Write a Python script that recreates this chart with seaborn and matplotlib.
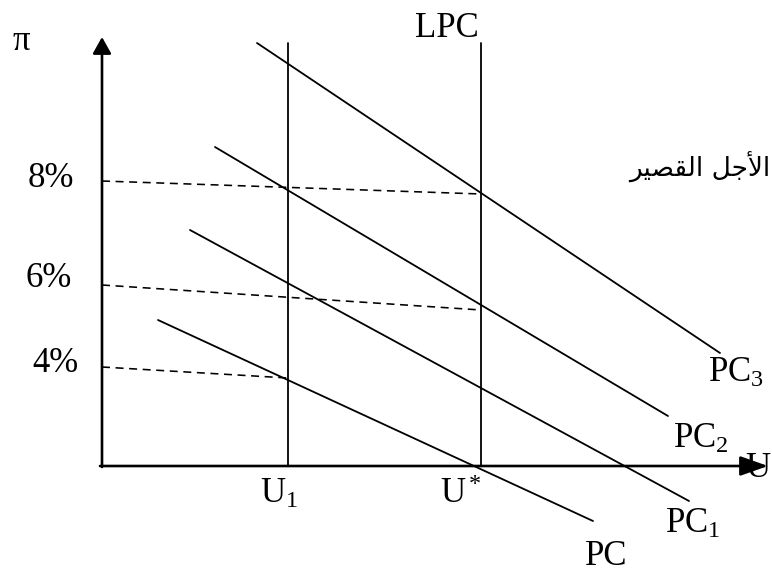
import pandas as pd
import numpy as np
import matplotlib
matplotlib.use("Agg")
import matplotlib.pyplot as plt
import seaborn as sns

# seaborn style, then fonts (set_style resets font.family)
sns.set_style("white")
plt.rcParams['font.family'] = ['Liberation Serif', 'DejaVu Sans']
plt.rcParams['mathtext.fontset'] = 'custom'
plt.rcParams['mathtext.rm'] = 'Liberation Serif'
plt.rcParams['mathtext.it'] = 'Liberation Serif:italic'
plt.rcParams['text.color'] = 'black'

# short-run Phillips curves: start / end points (U, pi) in diagram units
curve_names = ['PC', 'PC1', 'PC2', 'PC3']
curve_u_start = [0.56, 0.88, 1.13, 1.55]
curve_pi_start = [1.46, 2.36, 3.19, 4.23]
curve_u_end = [4.91, 5.87, 5.66, 6.18]
curve_pi_end = [-0.55, -0.35, 0.50, 1.13]

# vertical lines: U1 and U* (long-run curve LPC)
vline_u = [1.86, 3.79]
vline_top = 4.23

# dashed expectation lines from the pi axis
dash_labels = ['8%', '6%', '4%']
dash_pi_start = [2.85, 1.81, 0.99]
dash_u_end = [3.79, 3.79, 1.86]
dash_pi_end = [2.72, 1.56, 0.88]

# axis extents
u_axis_end = 6.66
pi_axis_end = 4.29

def load_curves():
    rows = []
    for n, u0, p0, u1, p1 in zip(curve_names, curve_u_start, curve_pi_start,
                                 curve_u_end, curve_pi_end):
        rows.append({'curve': n, 'U': u0, 'pi': p0})
        rows.append({'curve': n, 'U': u1, 'pi': p1})
    return pd.DataFrame(rows)

fig = plt.figure(figsize=(7.72, 5.72), dpi=100)
ax = fig.add_axes([0, 0, 1, 1])
ax.set_xlim(-1.02, 6.70)
ax.set_ylim(-1.06, 4.66)

curves = load_curves()
sns.lineplot(data=curves, x='U', y='pi', hue='curve', units='curve',
             estimator=None, sort=False, legend=False, ax=ax,
             palette=['black'] * 4, linewidth=1.3)

# verticals
for u in vline_u:
    ax.plot([u, u], [0, vline_top], color='black', lw=1.3)

# dashed lines
for p0, u1, p1 in zip(dash_pi_start, dash_u_end, dash_pi_end):
    ax.plot([0, u1], [p0, p1], color='black', lw=1.15, linestyle=(0, (5, 3.5)))

# axes with arrows
ax.annotate('', xy=(0, pi_axis_end), xytext=(0, -0.01),
            arrowprops=dict(arrowstyle='-|>,head_length=0.5,head_width=0.28',
                            mutation_scale=20, lw=1.9, color='black',
                            shrinkA=0, shrinkB=0))
ax.annotate('', xy=(u_axis_end, 0), xytext=(-0.02, 0),
            arrowprops=dict(arrowstyle='-|>,head_length=0.85,head_width=0.3',
                            mutation_scale=20, lw=1.9, color='black',
                            shrinkA=0, shrinkB=0))

fs = 25

# text labels (positions in diagram units)
def px(x, y):
    return (x - 102) / 100, (466 - y) / 100

ax.text(*px(21, 50), 'π', fontsize=fs, ha='center', va='baseline')
for lab, (x, y) in zip(dash_labels, [(51, 187), (49, 287), (55, 372)]):
    ax.text(*px(x, y), lab, fontsize=fs, ha='center', va='baseline')
ax.text(*px(447, 37), 'LPC', fontsize=fs, ha='center', va='baseline')
ax.text(*px(260, 503), 'U$_1$', fontsize=fs, ha='left', va='baseline')
ax.text(*px(440, 503), 'U$^*$', fontsize=fs, ha='left', va='baseline')
ax.text(*px(585, 565), 'PC', fontsize=fs, ha='left', va='baseline')
ax.text(*px(665, 533), 'PC$_1$', fontsize=fs, ha='left', va='baseline')
ax.text(*px(673, 448), 'PC$_2$', fontsize=fs, ha='left', va='baseline')
ax.text(*px(708, 382), 'PC$_3$', fontsize=fs, ha='left', va='baseline')
ax.text(*px(745, 477), 'U', fontsize=fs, ha='left', va='baseline')

# "short run" label, Arabic in shaped presentation forms (visual order)
ax.text(*px(770, 167), 'ﺮﻴﺼﻘﻟﺍ ﻞﺟﻷﺍ', fontsize=19, ha='right', va='center',
        family=['DejaVu Sans'])

ax.set_axis_off()
sns.despine(ax=ax, left=True, bottom=True)
fig.savefig('out.png', dpi=100)
